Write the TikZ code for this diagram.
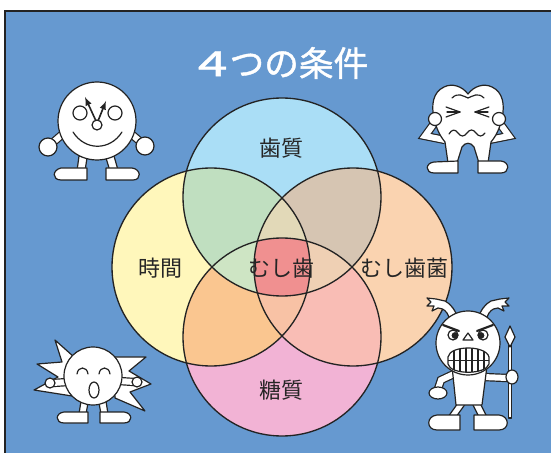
\documentclass[tikz,border=0pt]{standalone}
\usepackage{fontspec}
\newfontfamily\jpfont{Noto Sans CJK JP}
\newfontfamily\jptitle[FakeBold=1.2]{Noto Sans CJK JP}
\usetikzlibrary{arrows}

\definecolor{bgblue}{RGB}{102,153,208}
\definecolor{inkline}{RGB}{35,35,35}
\definecolor{vTop}{RGB}{170,222,246}
\definecolor{vLeft}{RGB}{255,247,187}
\definecolor{vRight}{RGB}{250,211,176}
\definecolor{vBot}{RGB}{242,179,213}
\definecolor{vTL}{RGB}{192,223,192}
\definecolor{vTR}{RGB}{214,197,178}
\definecolor{vBL}{RGB}{250,198,144}
\definecolor{vBR}{RGB}{249,189,181}
\definecolor{vTLR}{RGB}{226,217,184}
\definecolor{vTLB}{RGB}{206,229,196}
\definecolor{vTRB}{RGB}{239,208,180}
\definecolor{vBLR}{RGB}{248,194,165}
\definecolor{vAll}{RGB}{240,144,144}

\tikzset{
        ringline/.style = {draw=inkline, line width=1pt},
        toon/.style = {fill=white, draw=inkline, line width=0.9pt, line join=round},
        limb/.style = {draw=inkline, line width=0.9pt, double=white, double distance=4.5pt},
        face/.style = {draw=inkline, line width=0.9pt, line cap=round, line join=round},
        vennlabel/.style = {font=\jpfont\fontsize{16.5}{16.5}\selectfont, text=black!85, inner sep=0pt},
        headline/.style = {font=\jptitle\fontsize{26}{26}\selectfont, text=white, inner sep=0pt},
    }

\begin{document}
\begin{tikzpicture}[x=0.75pt,y=0.75pt,yscale=-1,xscale=1]
\useasboundingbox (0,0) rectangle (551,453);

% frame
\fill[white] (0,0) rectangle (551,453);
\fill[bgblue] (5,11) rectangle (551,453);
\draw[inkline, line width=1.2pt] (5,453) -- (5,11) -- (551,11);

% Text Node
\node[headline] (title) at (283,63) {\scalebox{1.55}[1]{4}\hspace{1.5pt}つの条件};

%Venn circles
\coordinate (cTop) at (282,197);
\coordinate (cLeft) at (211,267);
\coordinate (cRight) at (353,267);
\coordinate (cBot) at (282,337);

\fill[vTop] (cTop) circle (99);
\fill[vLeft] (cLeft) circle (99);
\fill[vRight] (cRight) circle (99);
\fill[vBot] (cBot) circle (99);
% two overlaps
\begin{scope}
  \clip (cTop) circle (99);
  \fill[vTL] (cLeft) circle (99);
  \fill[vTR] (cRight) circle (99);
\end{scope}
\begin{scope}
  \clip (cBot) circle (99);
  \fill[vBL] (cLeft) circle (99);
  \fill[vBR] (cRight) circle (99);
\end{scope}
% three overlaps
\begin{scope}
  \clip (cTop) circle (99);
  \clip (cLeft) circle (99);
  \fill[vTLR] (cRight) circle (99);
  \fill[vTLB] (cBot) circle (99);
\end{scope}
\begin{scope}
  \clip (cBot) circle (99);
  \clip (cRight) circle (99);
  \fill[vTRB] (cTop) circle (99);
  \fill[vBLR] (cLeft) circle (99);
\end{scope}
% all four
\begin{scope}
  \clip (cTop) circle (99);
  \clip (cLeft) circle (99);
  \clip (cRight) circle (99);
  \fill[vAll] (cBot) circle (99);
\end{scope}
\draw[ringline] (cTop) circle (99);
\draw[ringline] (cLeft) circle (99);
\draw[ringline] (cRight) circle (99);
\draw[ringline] (cBot) circle (99);

% Text Node
\node[vennlabel] (enamel) at (281,148) {歯質};
\node[vennlabel] (hours) at (160,268) {時間};
\node[vennlabel] (germs) at (404,268) {むし歯菌};
\node[vennlabel] (sugar) at (281,390) {糖質};
\node[vennlabel] (caries) at (281,268) {むし歯};

%Clock man
\draw[toon] (79,156) -- (87,158) -- (85,171) -- (77,171) -- cycle;
\draw[toon] (106,158) -- (114,156) -- (118,170) -- (110,171) -- cycle;
\draw[toon] (87,168) -- (87,180) -- (61,180) .. controls (52,180) and (52,170) .. (61,168) -- cycle;
\draw[toon] (106,168) -- (132,168) .. controls (141,169) and (142,180) .. (133,180) -- (106,180) -- cycle;
\draw[limb] (65,132) -- (50,145);
\draw[limb] (129,132) -- (143,144);
\draw[toon] (48,147) circle (9);
\draw[toon] (145,146) circle (9);
\draw[toon] (97,121) circle (39);
\draw[toon] (80,113) circle (7);
\draw[toon] (115,113) circle (7);
\draw[inkline, line width=1.2pt, -latex] (96,121) -- (85,97);
\draw[inkline, line width=1.2pt, -latex] (98,121) -- (106,101);
\draw[toon] (97,125) circle (5);
\draw[face] (73,132) .. controls (85,151) and (110,151) .. (122,132);

%Tooth
\draw[limb] (433,125) -- (425,136) -- (445,140);
\draw[limb] (501,125) -- (509,136) -- (489,140);
\draw[toon] (468,94) .. controls (462,86) and (452,83) .. (444,87) .. controls (433,92) and (431,105) .. (434,118)
  .. controls (436,128) and (440,136) .. (445,142) -- (448,163) -- (457,163) -- (462,147)
  .. controls (465,142) and (471,142) .. (474,147) -- (479,163) -- (488,163) -- (491,142)
  .. controls (496,136) and (500,128) .. (502,118) .. controls (505,105) and (503,92) .. (492,87)
  .. controls (484,83) and (474,86) .. (468,94) -- cycle;
\draw[toon] (458,161) -- (458,173) -- (434,173) .. controls (425,173) and (425,163) .. (434,162) -- cycle;
\draw[toon] (478,161) -- (501,161) .. controls (510,162) and (510,173) .. (501,173) -- (478,173) -- cycle;
\draw[toon] (435,119) circle (6.5);
\draw[toon] (499,119) circle (6.5);
\draw[face] (452,98) .. controls (458,92) and (463,96) .. (468,98) .. controls (473,96) and (478,92) .. (484,98);
\draw[face] (446,107) -- (460,112) -- (446,117);
\draw[face] (447,112) -- (460,112);
\draw[face] (489,107) -- (475,112) -- (489,117);
\draw[face] (488,112) -- (475,112);
\draw[face] (449,134) .. controls (452,129) and (455,129) .. (458,133) .. controls (461,137) and (464,137) .. (467,133)
  .. controls (470,129) and (473,129) .. (476,133) .. controls (479,137) and (482,137) .. (485,133);

%Sun boy
\draw[toon] (74,357) -- (55,340) -- (62,362) -- (37,364) -- (58,377) -- (34,390) -- (72,396) -- cycle;
\draw[toon] (113,357) -- (146,357) -- (129,371) -- (151,384) -- (130,392) -- (145,411) -- (115,398) -- cycle;
\draw[limb] (68,382) -- (53,383);
\draw[limb] (119,381) -- (134,382);
\draw[toon] (50,383) circle (5);
\draw[toon] (137,382) circle (5);
\draw[toon] (81,401) -- (88,403) -- (86,414) -- (79,414) -- cycle;
\draw[toon] (99,403) -- (106,401) -- (108,414) -- (101,414) -- cycle;
\draw[toon] (88,412) -- (88,423) -- (64,423) .. controls (55,423) and (55,413) .. (64,412) -- cycle;
\draw[toon] (100,412) -- (124,412) .. controls (133,413) and (133,423) .. (124,423) -- (100,423) -- cycle;
\draw[toon] (93,376) circle (29);
\draw[face] (77,374) .. controls (78,366) and (87,366) .. (88,374);
\draw[face] (99,374) .. controls (100,366) and (109,366) .. (110,374);
\draw[toon] (94,390) ellipse [x radius=5, y radius=8];

%Germ with spear
% feelers
\draw[toon] (450,319) -- (447,313) .. controls (444,309) and (441,308) .. (438,308) -- (432,311) -- (434,306)
  -- (427,306) -- (431,302) -- (427,298) -- (436,299) -- (445,301) .. controls (451,304) and (455,310) .. (458,318) -- cycle;
\draw[toon] (486,319) -- (489,313) .. controls (492,309) and (495,308) .. (498,308) -- (504,311) -- (502,306)
  -- (509,306) -- (505,302) -- (509,298) -- (500,299) -- (491,301) .. controls (485,304) and (481,310) .. (478,318) -- cycle;
% spear
\draw[toon] (508.5,344) rectangle (511.5,418);
\draw[toon] (510,326) -- (515,337) -- (510,347) -- (505,337) -- cycle;
\draw[limb] (456,373) -- (441,380) -- (438,389);
\draw[limb] (483,377) -- (507,378);
\draw[toon] (458,403) -- (466,403) -- (456,417) -- (448,417) -- cycle;
\draw[toon] (472,403) -- (480,403) -- (487,417) -- (479,417) -- cycle;
\draw[toon] (452,366) -- (487,366) -- (482,405) -- (456,405) -- cycle;
\draw[toon] (460,415) -- (460,430) -- (437,430) .. controls (426,430) and (426,416) .. (437,415) -- cycle;
\draw[toon] (474,415) -- (499,415) .. controls (510,416) and (510,430) .. (499,430) -- (474,430) -- cycle;
\draw[toon] (438,393) ellipse [x radius=9, y radius=6];
\draw[toon] (468,343) circle (32);
\draw[toon] (453,335) circle (5);
\draw[toon] (483,335) circle (5);
\fill[inkline] (455,335.5) circle (3.4);
\fill[inkline] (481,335.5) circle (3.4);
\draw[inkline, line width=1.6pt, line cap=round] (443,325) -- (459,331);
\draw[inkline, line width=1.6pt, line cap=round] (493,325) -- (477,331);
\draw[toon] (463,340) -- (473,340) -- (468,333) -- cycle;
\draw[toon] (448,357) .. controls (450,345) and (486,345) .. (489,357) -- (489,364) .. controls (486,375) and (450,375) .. (448,364) -- cycle;
\begin{scope}
  \clip (448,357) .. controls (450,345) and (486,345) .. (489,357) -- (489,364) .. controls (486,375) and (450,375) .. (448,364) -- cycle;
  \foreach \tx in {454,460,466,472,478,484}
    \draw[face] (\tx,345) -- (\tx,375);
  \draw[face] (446,360.5) -- (491,360.5);
\end{scope}
\draw[toon] (512,377) ellipse [x radius=6, y radius=7];

\end{tikzpicture}
\end{document}
